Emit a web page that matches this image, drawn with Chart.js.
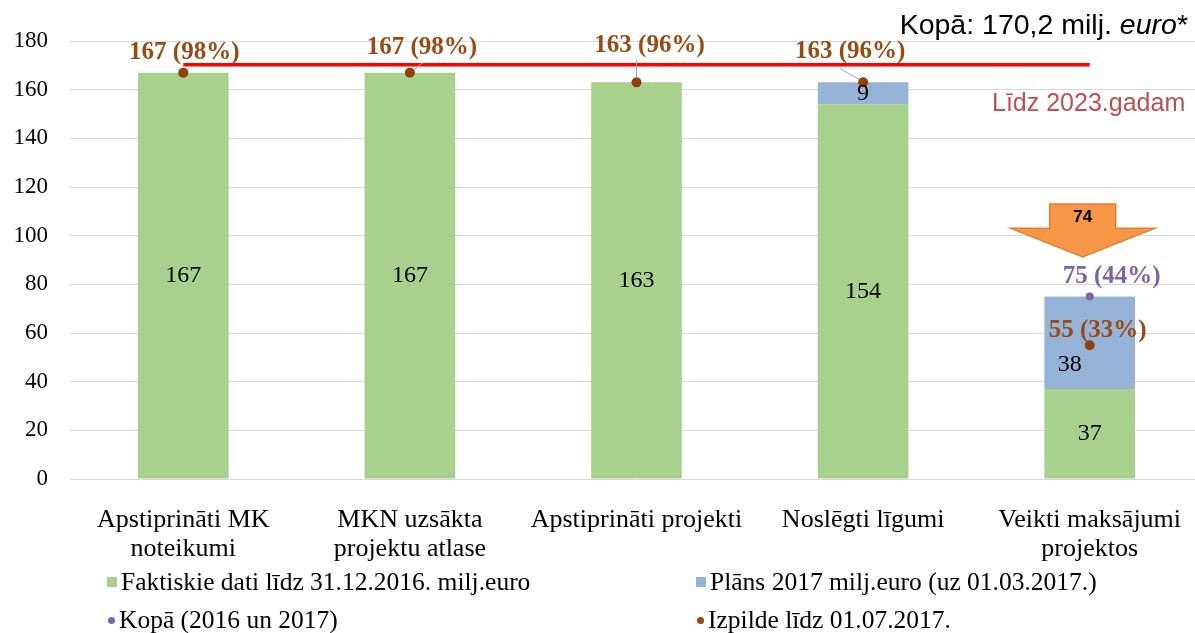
<!DOCTYPE html>
<html>
<head>
<meta charset="utf-8">
<script src="https://cdn.jsdelivr.net/npm/chart.js@4.4.1/dist/chart.umd.min.js"></script>
<style>
  html, body { margin: 0; padding: 0; background: #fff; overflow: hidden; }
  #wrap { position: relative; width: 1195px; height: 633px; overflow: hidden; }
  #c { position: absolute; left: 0; top: 0; }
  .note { position: absolute; font-family: "Liberation Sans", Arial, sans-serif; white-space: nowrap; }
  #total { right: 7px; top: 8px; font-size: 28.5px; line-height: 33px; color: #000; }
  #until { left: 992px; top: 88px; font-size: 25px; color: #C0504D; }
  .leg { position: absolute; font-family: "Liberation Serif", "Times New Roman", serif; font-size: 25.5px; color: #000; white-space: nowrap; }
  .leg i { display: inline-block; vertical-align: middle; margin-right: 4px; position: relative; top: -2px; }
  .sq { width: 10px; height: 10px; }
  .dot { width: 7px; height: 7px; border-radius: 50%; }
</style>
</head>
<body>
<div id="wrap">
  <canvas id="c" width="1208" height="633"></canvas>
  <div class="note" id="total">Kopā: 170,2 milj. <em>euro</em>*</div>
  <div class="note" id="until">Līdz 2023.gadam</div>
  <div class="leg" style="left:107px; top:567px;"><i class="sq" style="background:#A9D18E"></i>Faktiskie dati līdz 31.12.2016. milj.euro</div>
  <div class="leg" style="left:696px; top:567px;"><i class="sq" style="background:#95B3D7"></i>Plāns 2017 milj.euro (uz 01.03.2017.)</div>
  <div class="leg" style="left:108px; top:605px;"><i class="dot" style="background:#8064A2"></i>Kopā (2016 un 2017)</div>
  <div class="leg" style="left:697px; top:605px;"><i class="dot" style="background:#974C13"></i>Izpilde līdz 01.07.2017.</div>
</div>
<script>
// categories (multi-line labels)
const categories = [
    ['Apstiprināti MK', 'noteikumi'],
    ['MKN uzsākta', 'projektu atlase'],
    ['Apstiprināti projekti'],
    ['Noslēgti līgumi'],
    ['Veikti maksājumi', 'projektos']
];
// milj. euro
const actual2016 = [167, 167, 163, 154, 37];
const plan2017 = [null, null, null, 9, 38];
const totalKopa = [null, null, null, null, 75];
const izpilde = [167, 167, 163, 163, 55];
const izpildePct = [98, 98, 96, 96, 33];
const kopaPct = [null, null, null, null, 44];
const target2023 = [170.2, 170.2, 170.2, 170.2, 170.2];
const gap = 74;
const yTicks = [0, 20, 40, 60, 80, 100, 120, 140, 160, 180];

const serif = '"Liberation Serif", "Times New Roman", serif';

// label placement tweaks (px), not data
const izpildeOffsets = [[1, -20], [12, -25], [13, -37], [-13, -31], [8, -15]];
const izpildeLeaders = [null, [[4, -3], [13, -10]], [[0, -4], [0, -22]], [[-4, -3], [-23, -14]], null];
const kopaOffset = [22, -20];
const barLabelOffsets = { '1-4': [-20, 22] };

const labelPlugin = {
    id: 'labels',
    afterDatasetsDraw(chart) {
        const ctx = chart.ctx;
        ctx.save();
        ctx.textAlign = 'center';
        ctx.textBaseline = 'middle';

        // values inside the bars
        ctx.font = '24px ' + serif;
        ctx.fillStyle = '#000';
        [0, 1].forEach(di => {
            const meta = chart.getDatasetMeta(di);
            meta.data.forEach((el, i) => {
                const v = chart.data.datasets[di].data[i];
                if (v == null) return;
                const off = barLabelOffsets[di + '-' + i] || [0, 0];
                ctx.fillText(String(v), el.x + off[0], (el.y + el.base) / 2 + off[1]);
            });
        });

        // Izpilde labels with leader lines
        const pm = chart.getDatasetMeta(3);
        pm.data.forEach((el, i) => {
            const ld = izpildeLeaders[i];
            if (ld) {
                ctx.strokeStyle = '#A6A6A6';
                ctx.lineWidth = 1;
                ctx.beginPath();
                ctx.moveTo(el.x + ld[0][0], el.y + ld[0][1]);
                ctx.lineTo(el.x + ld[1][0], el.y + ld[1][1]);
                ctx.stroke();
            }
            ctx.font = 'bold 25px ' + serif;
            ctx.fillStyle = '#974C13';
            ctx.fillText(izpilde[i] + ' (' + izpildePct[i] + '%)', el.x + izpildeOffsets[i][0], el.y + izpildeOffsets[i][1]);
        });

        // Kopa label
        const km = chart.getDatasetMeta(2);
        km.data.forEach((el, i) => {
            if (totalKopa[i] == null) return;
            ctx.font = 'bold 25px ' + serif;
            ctx.fillStyle = '#8064A2';
            ctx.fillText(totalKopa[i] + ' (' + kopaPct[i] + '%)', el.x + kopaOffset[0], el.y + kopaOffset[1]);
        });

        // orange arrow showing the gap
        const xs = chart.scales.x, ys = chart.scales.y;
        const cx = xs.getPixelForValue(4) - 7;
        const yTop = ys.getPixelForValue(113);
        const yMid = ys.getPixelForValue(103);
        const yTip = ys.getPixelForValue(91.3);
        ctx.beginPath();
        ctx.moveTo(cx - 33, yTop);
        ctx.lineTo(cx + 33, yTop);
        ctx.lineTo(cx + 33, yMid);
        ctx.lineTo(cx + 72, yMid);
        ctx.lineTo(cx, yTip);
        ctx.lineTo(cx - 72, yMid);
        ctx.lineTo(cx - 33, yMid);
        ctx.closePath();
        ctx.fillStyle = '#F79646';
        ctx.fill();
        ctx.strokeStyle = '#E3802F';
        ctx.lineWidth = 1.5;
        ctx.stroke();
        ctx.font = 'bold 17px "Liberation Sans", Arial, sans-serif';
        ctx.fillStyle = '#000';
        ctx.fillText(String(gap), cx, (yTop + yMid) / 2 + 1);

        ctx.restore();
    }
};

new Chart(document.getElementById('c'), {
    data: {
        labels: categories,
        datasets: [
            { type: 'bar', label: 'Faktiskie dati līdz 31.12.2016. milj.euro', data: actual2016, backgroundColor: '#A9D18E', stack: 'bars', order: 4, barPercentage: 0.4, categoryPercentage: 1 },
            { type: 'bar', label: 'Plāns 2017 milj.euro (uz 01.03.2017.)', data: plan2017, backgroundColor: '#95B3D7', stack: 'bars', order: 4, barPercentage: 0.4, categoryPercentage: 1 },
            { type: 'line', label: 'Kopā (2016 un 2017)', data: totalKopa, showLine: false, pointRadius: 4, pointBackgroundColor: '#8064A2', pointBorderWidth: 0, stack: 'kopa', order: 1 },
            { type: 'line', label: 'Izpilde līdz 01.07.2017.', data: izpilde, showLine: false, pointRadius: 5, pointBackgroundColor: '#8F400C', pointBorderWidth: 0, stack: 'izp', order: 1 },
            { type: 'line', label: 'Līdz 2023', data: target2023, borderColor: '#FF0000', borderWidth: 3.5, pointRadius: 0, stack: 'target', order: 2 }
        ]
    },
    options: {
        responsive: false,
        animation: false,
        layout: { padding: { top: 41, right: 0, left: 0, bottom: 0 } },
        plugins: { legend: { display: false }, tooltip: { enabled: false } },
        scales: {
            x: {
                stacked: true,
                grid: { display: false },
                border: { display: false },
                ticks: { font: { family: serif, size: 26, lineHeight: 1.1 }, color: '#000', maxRotation: 0, padding: 19 },
                afterFit(scale) { scale.height = 633 - 479; }
            },
            y: {
                stacked: true,
                min: 0,
                max: 180,
                afterBuildTicks(scale) { scale.ticks = yTicks.map(v => ({ value: v })); },
                grid: { color: '#D9D9D9', drawTicks: false },
                border: { display: false },
                ticks: { font: { family: serif, size: 23 }, color: '#000', padding: 22 },
                afterFit(scale) { scale.width = 70; }
            }
        }
    },
    plugins: [labelPlugin]
});
</script>
</body>
</html>
